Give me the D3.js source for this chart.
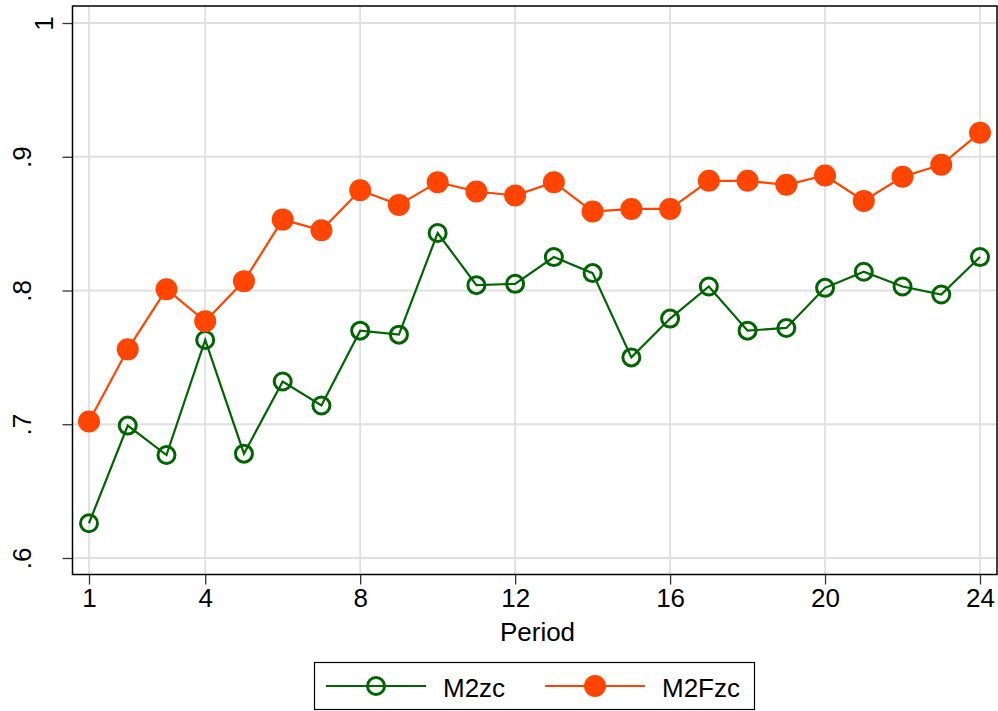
<!DOCTYPE html>
<html>
<head>
<meta charset="utf-8">
<script src="https://cdn.jsdelivr.net/npm/d3@7"></script>
<style>
  html, body { margin: 0; padding: 0; background: #fff; }
  svg { display: block; font-family: "Liberation Sans", Arial, sans-serif; }
</style>
</head>
<body>
<svg id="chart" width="998" height="711"></svg>
<script>
const periods = [1,2,3,4,5,6,7,8,9,10,11,12,13,14,15,16,17,18,19,20,21,22,23,24];
const m2zc  = [0.626,0.699,0.677,0.763,0.678,0.732,0.714,0.770,0.767,0.843,0.804,0.805,0.825,0.813,0.750,0.779,0.803,0.770,0.772,0.802,0.814,0.803,0.797,0.825];
const m2fzc = [0.702,0.756,0.801,0.777,0.807,0.853,0.845,0.875,0.864,0.881,0.874,0.871,0.881,0.859,0.861,0.861,0.882,0.882,0.879,0.886,0.867,0.885,0.894,0.918];
const xTicks = [1,4,8,12,16,20,24];
const yTicks = [0.6,0.7,0.8,0.9,1];
const yTickLabels = [".6",".7",".8",".9","1"];
const seriesNames = ["M2zc","M2Fzc"];

const svg = d3.select("#chart");
const frame = {left: 72.5, top: 6, right: 997, bottom: 574.5};
const x = d3.scaleLinear().domain([1,24]).range([89,980]);
const y = d3.scaleLinear().domain([0.6,1]).range([558,23]);

const green = "#006400", orange = "#ff4500";

// background grid
const grid = svg.append("g");
grid.selectAll("line.h").data(yTicks).enter().append("line")
  .attr("x1", frame.left).attr("x2", frame.right)
  .attr("y1", d => y(d)).attr("y2", d => y(d))
  .attr("stroke", "#e0e0e0").attr("stroke-width", 1.8);
grid.selectAll("line.v").data(xTicks).enter().append("line")
  .attr("y1", frame.top).attr("y2", frame.bottom)
  .attr("x1", d => x(d)).attr("x2", d => x(d))
  .attr("stroke", "#e0e0e0").attr("stroke-width", 1.8);

// frame
svg.append("rect")
  .attr("x", frame.left).attr("y", frame.top)
  .attr("width", frame.right - frame.left).attr("height", frame.bottom - frame.top)
  .attr("fill", "none").attr("stroke", "#000").attr("stroke-width", 1.5);

// x axis
const xAxis = d3.axisBottom(x).tickValues(xTicks).tickSize(10).tickPadding(4).tickFormat(d3.format("d"));
const gx = svg.append("g").attr("transform", `translate(0,${frame.bottom})`).call(xAxis);
gx.select(".domain").remove();
gx.selectAll(".tick line").attr("stroke", "#333").attr("stroke-width", 1.3);
gx.selectAll(".tick text").attr("font-size", 26).attr("fill", "#000")
  .attr("font-family", "Liberation Sans, Arial, sans-serif").attr("dy", "0.71em");

// y axis
const yAxis = d3.axisLeft(y).tickValues(yTicks).tickSize(10)
  .tickFormat((d, i) => yTickLabels[i]);
const gy = svg.append("g").attr("transform", `translate(${frame.left},0)`).call(yAxis);
gy.select(".domain").remove();
gy.selectAll(".tick line").attr("stroke", "#333").attr("stroke-width", 1.3);
gy.selectAll(".tick text")
  .attr("font-size", 26).attr("fill", "#000")
  .attr("font-family", "Liberation Sans, Arial, sans-serif")
  .attr("text-anchor", "middle")
  .attr("x", null).attr("dy", null)
  .attr("transform", d => `translate(${d === 1 ? -20 : -42},0) rotate(-90)`);

// x title
svg.append("text").attr("x", (x(1)+x(24))/2 + 3).attr("y", 641)
  .attr("text-anchor", "middle").attr("font-size", 26).text("Period");

// series
const line = d3.line().x((d, i) => x(periods[i])).y(d => y(d));

svg.append("path").datum(m2zc).attr("d", line)
  .attr("fill", "none").attr("stroke", green).attr("stroke-width", 2.2);
svg.append("g").selectAll("circle").data(m2zc).enter().append("circle")
  .attr("cx", (d, i) => x(periods[i])).attr("cy", d => y(d)).attr("r", 8.5)
  .attr("fill", "none").attr("stroke", green).attr("stroke-width", 3);

svg.append("path").datum(m2fzc).attr("d", line)
  .attr("fill", "none").attr("stroke", orange).attr("stroke-width", 2.2);
svg.append("g").selectAll("circle").data(m2fzc).enter().append("circle")
  .attr("cx", (d, i) => x(periods[i])).attr("cy", d => y(d)).attr("r", 11)
  .attr("fill", orange);

// legend
const lg = svg.append("g");
lg.append("rect").attr("x", 314.5).attr("y", 662.5).attr("width", 440).attr("height", 47)
  .attr("fill", "#fff").attr("stroke", "#000").attr("stroke-width", 1.2);
const legendItems = [
  {name: seriesNames[0], color: green, x0: 326, filled: false},
  {name: seriesNames[1], color: orange, x0: 545, filled: true}
];
legendItems.forEach(it => {
  lg.append("line").attr("x1", it.x0).attr("x2", it.x0 + 100).attr("y1", 686).attr("y2", 686)
    .attr("stroke", it.color).attr("stroke-width", 2.2);
  const c = lg.append("circle").attr("cx", it.x0 + 50).attr("cy", 686);
  if (it.filled) c.attr("r", 11).attr("fill", it.color);
  else c.attr("r", 8.5).attr("fill", "none").attr("stroke", it.color).attr("stroke-width", 3);
  lg.append("text").attr("x", it.x0 + 117).attr("y", 697).attr("font-size", 26).text(it.name);
});
</script>
</body>
</html>
